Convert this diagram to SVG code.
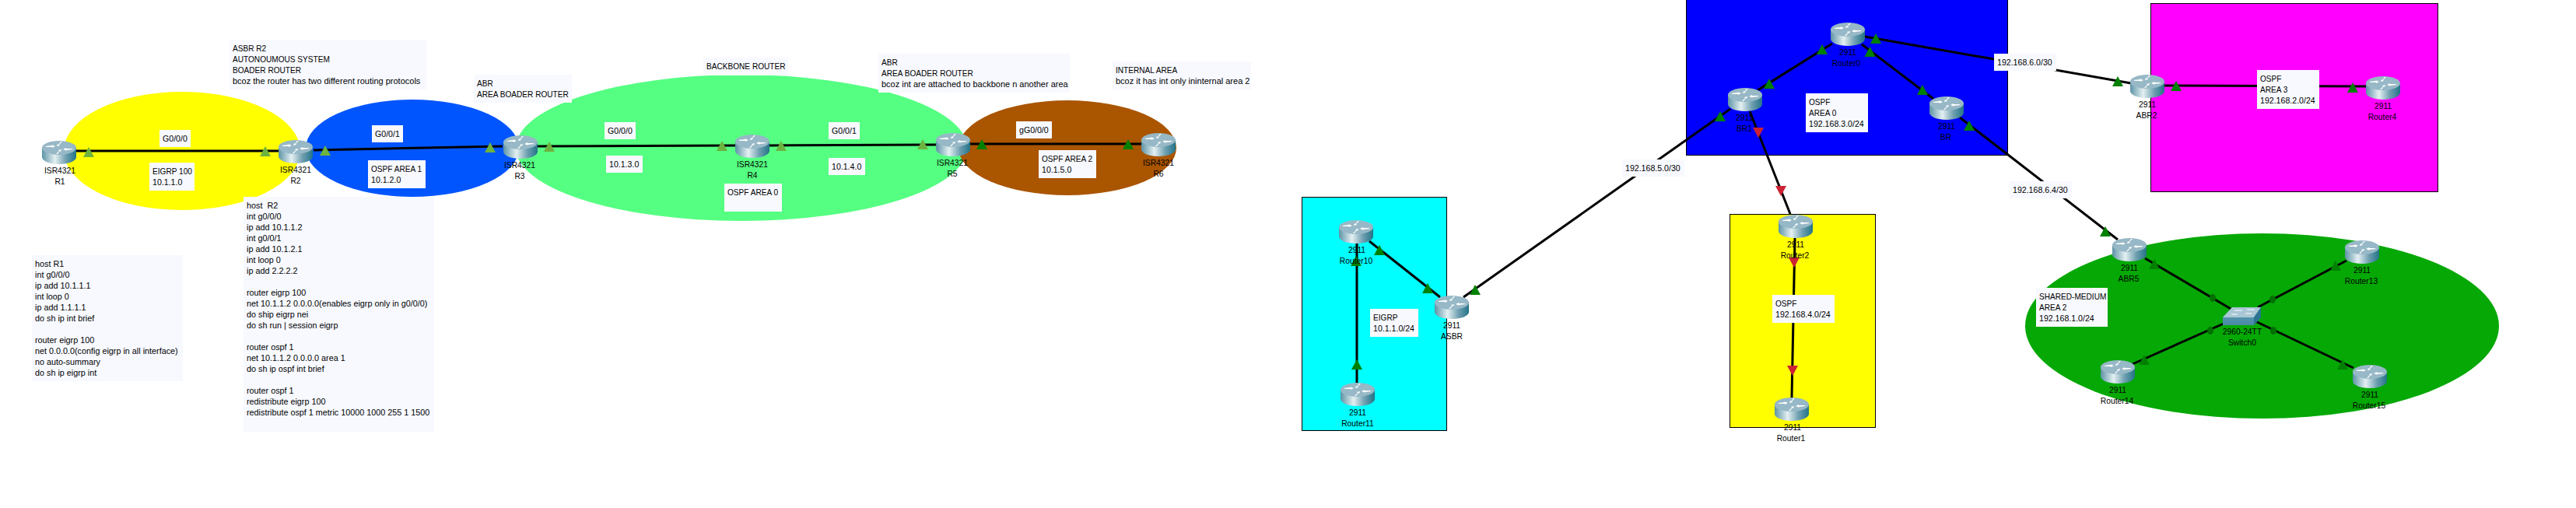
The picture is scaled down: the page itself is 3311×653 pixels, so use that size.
<svg xmlns="http://www.w3.org/2000/svg" xmlns:xlink="http://www.w3.org/1999/xlink" width="3311" height="653" viewBox="0 0 3311 653">
<style>
text{font-family:"Liberation Sans",Arial,sans-serif;font-size:10.3px;fill:#000}
#notes text{font-size:10.1px}
#notes .i{font-size:10.6px}
#notes .b{font-size:11px}
#note-r1 text,#note-r2 text{font-size:10.8px}
.c{text-anchor:middle}
.n{fill:#f7f9ff}
.l{stroke:#000;stroke-width:3;fill:none}
.a{stroke:#000;stroke-width:1;}
.lime{fill:#6db33f}
.dark{fill:#008000}
.red{fill:#cc2233}
.dot{fill:#007000}
</style>
<defs>
<linearGradient id="body" x1="0" x2="1" y1="0" y2="0">
<stop offset="0" stop-color="#5d93a6"/><stop offset=".38" stop-color="#e4f0f2"/><stop offset=".7" stop-color="#6f9fb0"/><stop offset="1" stop-color="#237488"/>
</linearGradient>
<linearGradient id="sw" x1="0" x2="0" y1="0" y2="1">
<stop offset="0" stop-color="#5e9cb4"/><stop offset="1" stop-color="#4a8ba6"/>
</linearGradient>
<g id="router">
<path d="M0,8V21C0,26 10,30 22,30S44,26 44,21V8Z" fill="url(#body)"/>
<ellipse cx="22" cy="9" rx="22" ry="9" fill="#97b8c6"/>
<path d="M4,7L13,6L12,5L17,7L13,9L13,8L6,8Z M40,11L31,12L32,13L27,11L31,9L31,10L38,10Z M18,17L22,13L21,12L25,11L24,14L23,13L20,17Z M26,1L22,5L23,6L19,7L20,4L21,5L24,1Z" fill="#fff"/>
</g>
<polygon id="tri" points="-7,13 7,13 0,0"/>
<polygon id="tv" points="-7,0 7,0 0,13"/>
</defs>

<g id="areas">
<ellipse id="area-yellow" cx="234" cy="194" rx="152" ry="76" fill="#ffff00"/>
<ellipse id="area-blue" cx="530" cy="190.500" rx="137" ry="62.500" fill="#0055ff"/>
<ellipse id="area-green" cx="953" cy="190" rx="290" ry="94" fill="#55ff82"/>
<ellipse id="area-brown" cx="1372" cy="190" rx="140" ry="61" fill="#aa5500"/>
<rect id="area-cyan" class="a" x="1673.500" y="253.500" width="186" height="300" fill="#00ffff"/>
<rect id="area-0" class="a" x="2167.500" y="-2" width="413" height="201.500" fill="#0000ff"/>
<rect id="area-4" class="a" x="2223.500" y="275.500" width="187" height="274" fill="#ffff00"/>
<rect id="area-3" class="a" x="2764.500" y="4.500" width="369" height="242" fill="#ff00ff"/>
<ellipse id="area-2" cx="2907.500" cy="419" rx="304.500" ry="119" fill="#05a805"/>
</g>

<g id="connectors">
<path class="l" d="M98,194H358"/>
<path class="l" d="M403,193L646,188"/>
<path class="l" d="M691,188L945,187"/>
<path class="l" d="M989,187L1203,186"/>
<path class="l" d="M1247,185H1467"/>
<path class="l" d="M1744,313V492"/>
<path class="l" d="M1760,310L1851,382"/>
<path class="l" d="M1881,382L2224,140"/>
<path class="l" d="M2259,116L2355,56"/>
<path class="l" d="M2393,57L2485,127"/>
<path class="l" d="M2397,47L2739,107"/>
<path class="l" d="M2519,151L2722,308"/>
<path class="l" d="M2249,143L2301,275"/>
<path class="l" d="M2307,306L2303,511"/>
<path class="l" d="M2782,110L3041,111"/>
<path class="l" d="M2757,332L2869,398"/>
<path class="l" d="M3016,335L2902,395"/>
<path class="l" d="M2741,468L2858,416"/>
<path class="l" d="M3025,473L2899,413"/>
<g class="lime">
<use href="#tri" x="114" y="189"/><use href="#tri" x="341" y="188"/><use href="#tri" x="418" y="187"/><use href="#tri" x="630" y="183"/>
<use href="#tri" x="706" y="182"/><use href="#tri" x="928" y="181"/><use href="#tri" x="1004" y="181"/><use href="#tri" x="1186" y="179"/>
</g>
<g class="dark">
<use href="#tri" x="1262" y="179"/><use href="#tri" x="1450" y="179"/>
<use href="#tri" x="1743" y="329"/><use href="#tri" x="1744" y="462"/><use href="#tri" x="1773" y="315"/><use href="#tri" x="1835" y="364"/>
<use href="#tri" x="1896" y="366"/><use href="#tri" x="2211" y="143"/><use href="#tri" x="2274" y="101"/><use href="#tri" x="2342" y="57"/>
<use href="#tri" x="2403.500" y="60"/><use href="#tri" x="2471" y="109"/><use href="#tri" x="2411" y="43"/><use href="#tri" x="2722" y="98"/>
<use href="#tri" x="2531" y="155"/><use href="#tri" x="2706" y="291"/><use href="#tri" x="2797" y="104"/><use href="#tri" x="3024" y="106"/>
<use href="#tri" x="2769" y="333"/><use href="#tri" x="3002" y="335"/><use href="#tri" x="2756" y="456"/><use href="#tri" x="3011" y="462"/>
</g>
<g class="red">
<use href="#tv" x="2260" y="164"/><use href="#tv" x="2289" y="239"/><use href="#tv" x="2306" y="331"/><use href="#tv" x="2304" y="470"/>
</g>
<g class="dot">
<ellipse cx="2844" cy="383" rx="4" ry="5"/><ellipse cx="2921" cy="385" rx="4" ry="5"/><ellipse cx="2841" cy="425" rx="4" ry="5"/><ellipse cx="2922" cy="425" rx="4" ry="5"/>
</g>
</g>

<g id="notes">
<g id="note-asbr"><rect class="n" x="295" y="51" width="253" height="64"/><text x="299" y="66">ASBR R2<tspan x="299" dy="14">AUTONOUMOUS SYSTEM</tspan><tspan x="299" dy="14">BOADER ROUTER</tspan><tspan class="b" x="299" dy="14">bcoz the router has two different routing protocols</tspan></text></g>
<g id="note-abr3"><rect class="n" x="609" y="96" width="126" height="36"/><text x="613" y="111">ABR<tspan x="613" dy="14">AREA BOADER ROUTER</tspan></text></g>
<g id="note-backbone"><rect class="n" x="904" y="74" width="109" height="23"/><text x="908" y="89">BACKBONE ROUTER</text></g>
<g id="note-abr5"><rect class="n" x="1129" y="69" width="246" height="50"/><text x="1133" y="84">ABR<tspan x="1133" dy="14">AREA BOADER ROUTER</tspan><tspan class="b" x="1133" dy="14">bcoz int are attached to backbone n another area</tspan></text></g>
<g id="note-internal"><rect class="n" x="1430" y="79" width="178" height="36"/><text x="1434" y="94">INTERNAL AREA<tspan class="b" x="1434" dy="14">bcoz it has int only ininternal area 2</tspan></text></g>
<g id="note-r2"><rect class="n" x="313" y="253" width="245" height="302"/><text x="317" y="268" style="white-space:pre">host  R2<tspan x="317" dy="14">int g0/0/0</tspan><tspan x="317" dy="14">ip add 10.1.1.2</tspan><tspan x="317" dy="14">int g0/0/1</tspan><tspan x="317" dy="14">ip add 10.1.2.1</tspan><tspan x="317" dy="14">int loop 0</tspan><tspan x="317" dy="14">ip add 2.2.2.2</tspan><tspan x="317" dy="28">router eigrp 100</tspan><tspan x="317" dy="14">net 10.1.1.2 0.0.0.0(enables eigrp only in g0/0/0)</tspan><tspan x="317" dy="14">do ship eigrp nei</tspan><tspan x="317" dy="14">do sh run | session eigrp</tspan><tspan x="317" dy="28">router ospf 1</tspan><tspan x="317" dy="14">net 10.1.1.2 0.0.0.0 area 1</tspan><tspan x="317" dy="14">do sh ip ospf int brief</tspan><tspan x="317" dy="28">router ospf 1</tspan><tspan x="317" dy="14">redistribute eigrp 100</tspan><tspan x="317" dy="14">redistribute ospf 1 metric 10000 1000 255 1 1500</tspan></text></g>
<g id="note-r1"><rect class="n" x="41" y="328" width="194" height="162"/><text x="45" y="343">host R1<tspan x="45" dy="14">int g0/0/0</tspan><tspan x="45" dy="14">ip add 10.1.1.1</tspan><tspan x="45" dy="14">int loop 0</tspan><tspan x="45" dy="14">ip add 1.1.1.1</tspan><tspan x="45" dy="14">do sh ip int brief</tspan><tspan x="45" dy="28">router eigrp 100</tspan><tspan x="45" dy="14">net 0.0.0.0(config eigrp in all interface)</tspan><tspan x="45" dy="14">no auto-summary</tspan><tspan x="45" dy="14">do sh ip eigrp int</tspan></text></g>
<g id="lbl-1"><rect class="n" x="205" y="167" width="40" height="22"/><text class="i" x="209" y="182">G0/0/0</text></g>
<g id="lbl-2"><rect class="n" x="192" y="209" width="58" height="36"/><text x="196" y="224">EIGRP 100<tspan class="i" x="196" dy="14">10.1.1.0</tspan></text></g>
<g id="lbl-3"><rect class="n" x="478" y="161" width="40" height="22"/><text class="i" x="482" y="176">G0/0/1</text></g>
<g id="lbl-4"><rect class="n" x="473" y="206" width="74" height="36"/><text x="477" y="221">OSPF AREA 1<tspan class="i" x="477" dy="14">10.1.2.0</tspan></text></g>
<g id="lbl-5"><rect class="n" x="777" y="157" width="40" height="22"/><text class="i" x="781" y="172">G0/0/0</text></g>
<g id="lbl-6"><rect class="n" x="779" y="200" width="47" height="22"/><text class="i" x="783" y="215">10.1.3.0</text></g>
<g id="lbl-7"><rect class="n" x="1065" y="157" width="40" height="22"/><text class="i" x="1069" y="172">G0/0/1</text></g>
<g id="lbl-8"><rect class="n" x="1065" y="203" width="47" height="22"/><text class="i" x="1069" y="218">10.1.4.0</text></g>
<g id="lbl-9"><rect class="n" x="931" y="236" width="74" height="36"/><text x="935" y="251">OSPF AREA 0</text></g>
<g id="lbl-10"><rect class="n" x="1306" y="156" width="46" height="22"/><text class="i" x="1310" y="171">gG0/0/0</text></g>
<g id="lbl-11"><rect class="n" x="1335" y="193" width="74" height="36"/><text x="1339" y="208">OSPF AREA 2</text><text class="i" x="1339" y="222">10.1.5.0</text></g>
<g id="lbl-12"><rect class="n" x="1761" y="397" width="62" height="36"/><text x="1765" y="412">EIGRP<tspan class="i" x="1765" dy="14">10.1.1.0/24</tspan></text></g>
<g id="lbl-13"><rect class="n" x="2085" y="205" width="80" height="22"/><text class="i" x="2089" y="220">192.168.5.0/30</text></g>
<g id="lbl-14"><rect class="n" x="2321" y="120" width="80" height="50"/><text x="2325" y="135">OSPF<tspan x="2325" dy="14">AREA 0</tspan><tspan class="i" x="2325" dy="14">192.168.3.0/24</tspan></text></g>
<g id="lbl-15"><rect class="n" x="2563" y="69" width="80" height="22"/><text class="i" x="2567" y="84">192.168.6.0/30</text></g>
<g id="lbl-16"><rect class="n" x="2583" y="233" width="80" height="22"/><text class="i" x="2587" y="248">192.168.6.4/30</text></g>
<g id="lbl-17"><rect class="n" x="2278" y="379" width="80" height="36"/><text x="2282" y="394">OSPF<tspan class="i" x="2282" dy="14">192.168.4.0/24</tspan></text></g>
<g id="lbl-18"><rect class="n" x="2901" y="90" width="80" height="50"/><text x="2905" y="105">OSPF<tspan x="2905" dy="14">AREA 3</tspan><tspan class="i" x="2905" dy="14">192.168.2.0/24</tspan></text></g>
<g id="lbl-19"><rect class="n" x="2617" y="370" width="92" height="50"/><text x="2621" y="385">SHARED-MEDIUM<tspan x="2621" dy="14">AREA 2</tspan><tspan class="i" x="2621" dy="14">192.168.1.0/24</tspan></text></g>
</g>

<g id="R1"><use href="#router" x="54" y="181"/><text class="c" x="77" y="223">ISR4321</text><text class="c" x="77" y="237">R1</text></g>
<g id="R2"><use href="#router" x="358" y="180"/><text class="c" x="380" y="222">ISR4321</text><text class="c" x="380" y="236">R2</text></g>
<g id="R3"><use href="#router" x="647" y="174"/><text class="c" x="668" y="216">ISR4321</text><text class="c" x="668" y="230">R3</text></g>
<g id="R4"><use href="#router" x="945" y="173"/><text class="c" x="967" y="215">ISR4321</text><text class="c" x="967" y="229">R4</text></g>
<g id="R5"><use href="#router" x="1203" y="171"/><text class="c" x="1224" y="213">ISR4321</text><text class="c" x="1224" y="227">R5</text></g>
<g id="R6"><use href="#router" x="1467" y="171"/><text class="c" x="1489" y="213">ISR4321</text><text class="c" x="1489" y="227">R6</text></g>
<g id="Router10"><use href="#router" x="1721" y="283"/><text class="c" x="1744" y="325">2911</text><text class="c" x="1743" y="339">Router10</text></g>
<g id="Router11"><use href="#router" x="1723" y="492"/><text class="c" x="1745" y="534">2911</text><text class="c" x="1745" y="548">Router11</text></g>
<g id="ASBR"><use href="#router" x="1844" y="380"/><text class="c" x="1866" y="422">2911</text><text class="c" x="1866" y="436">ASBR</text></g>
<g id="Router0"><use href="#router" x="2353" y="29"/><text class="c" x="2375" y="71">2911</text><text class="c" x="2373" y="85">Router0</text></g>
<g id="BR1"><use href="#router" x="2221" y="113"/><text class="c" x="2242" y="155">2911</text><text class="c" x="2242" y="169">BR1</text></g>
<g id="BR"><use href="#router" x="2480" y="124"/><text class="c" x="2502" y="166">2911</text><text class="c" x="2501" y="180">BR</text></g>
<g id="Router2"><use href="#router" x="2286" y="276"/><text class="c" x="2308" y="318">2911</text><text class="c" x="2307" y="332">Router2</text></g>
<g id="Router1"><use href="#router" x="2281" y="511"/><text class="c" x="2304" y="553">2911</text><text class="c" x="2302" y="567">Router1</text></g>
<g id="ABR2"><use href="#router" x="2738" y="96"/><text class="c" x="2760" y="138">2911</text><text class="c" x="2759" y="152">ABR2</text></g>
<g id="Router4"><use href="#router" x="3041" y="98"/><text class="c" x="3063" y="140">2911</text><text class="c" x="3062" y="154">Router4</text></g>
<g id="ABR5"><use href="#router" x="2715" y="306"/><text class="c" x="2737" y="348">2911</text><text class="c" x="2736" y="362">ABR5</text></g>
<g id="Router13"><use href="#router" x="3014" y="309"/><text class="c" x="3036" y="351">2911</text><text class="c" x="3035" y="365">Router13</text></g>
<g id="Router14"><use href="#router" x="2700" y="463"/><text class="c" x="2722" y="505">2911</text><text class="c" x="2721" y="519">Router14</text></g>
<g id="Router15"><use href="#router" x="3024" y="469"/><text class="c" x="3046" y="511">2911</text><text class="c" x="3045" y="525">Router15</text></g>
<g id="Switch0">
<polygon points="2857,408 2869,395 2906,395 2906,408 2897,418 2857,418" fill="url(#sw)"/>
<polygon points="2857,408 2869,395 2906,395 2897,408" fill="#a9c7d4"/>
<polygon points="2897,408 2906,395 2906,408 2897,418" fill="#2b7490"/>
<path d="M2872,399h10M2888,398h10M2868,404h8M2886,403h8" stroke="#fff" stroke-width="1" fill="none"/>
<text class="c" x="2882" y="430">2960-24TT</text><text class="c" x="2882" y="444">Switch0</text>
</g>
</svg>
